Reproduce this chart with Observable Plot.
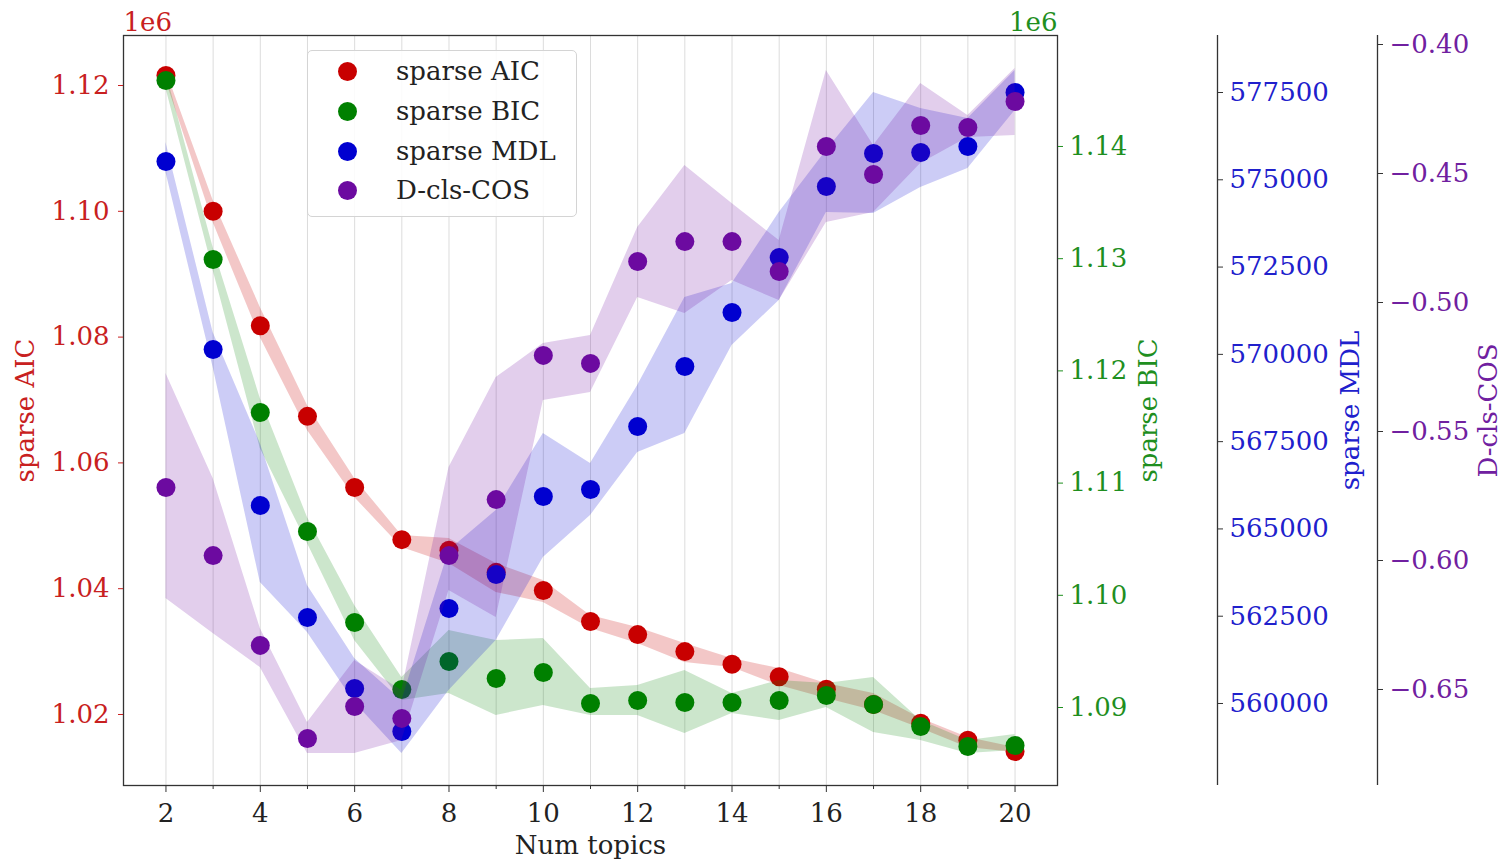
<!DOCTYPE html>
<html><head><meta charset="utf-8">
<script src="https://cdn.jsdelivr.net/npm/d3@7"></script>
<script src="https://cdn.jsdelivr.net/npm/@observablehq/plot@0.6"></script>
<style>
body{margin:0;background:#fff;}
#wrap{position:relative;width:1503px;height:860px;}
#legend{position:absolute;left:307px;top:50px;width:270px;height:167px;box-sizing:border-box;border:1px solid #d4d4d4;border-radius:5px;background:rgba(255,255,255,0.85);font-family:"DejaVu Serif";font-size:26px;color:#222;}
#legend .row{position:absolute;left:0;height:30px;}
#legend .dot{position:absolute;left:30px;top:6px;width:19px;height:19px;border-radius:50%;}
#legend .lab{position:absolute;left:88px;top:0;white-space:nowrap;line-height:30px;}
</style></head>
<body><div id="wrap"><div id="chart"></div><div id="legend"></div></div>
<script>
const topics = [2,3,4,5,6,7,8,9,10,11,12,13,14,15,16,17,18,19,20];

const aic     = [1121600,1100000,1081800,1067400,1056100,1047800,1046100,1042600,1039700,1034800,1032700,1030000,1028000,1026000,1024000,1021600,1018600,1015900,1014100];
const aicLow  = [1120790,1098220,1079940,1065150,1054500,1046550,1044010,1039400,1037810,1033670,1031290,1028270,1027470,1024610,1022540,1020640,1017770,1014750,1013960];
const aicHigh = [1122380,1101720,1084710,1069130,1057520,1048460,1047980,1044010,1041300,1035740,1033830,1031290,1028900,1027310,1024930,1023340,1019360,1016340,1014750];

const bic     = [1145880,1129930,1116290,1105690,1097580,1091600,1094100,1092580,1093120,1090360,1090620,1090450,1090450,1090620,1091070,1090270,1088310,1086520,1086610];
const bicLow  = [1145170,1128950,1113080,1104620,1095970,1090620,1091250,1089290,1090180,1089290,1089290,1087680,1089470,1088840,1090000,1087770,1087060,1085900,1086170];
const bicHigh = [1146600,1131000,1117540,1106930,1099090,1092670,1096860,1095970,1096150,1091690,1091960,1093300,1091250,1092410,1092140,1092670,1088840,1087060,1087590];

const mdl     = [575524,570139,565671,562463,560429,559198,562721,563695,565929,566129,567934,569652,571199,572774,574808,575753,575781,575953,577500];
const mdlLow  = [575209,569623,563465,562033,560028,558568,560372,561804,564181,565384,567189,567733,570254,571542,574063,574034,574779,575323,576984];
const mdlHigh = [576068,570626,567447,563379,561289,560086,564382,565528,567733,566874,569108,571628,572029,574063,575839,577500,577042,576755,578130];

const cos     = [-0.5717,-0.5981,-0.6329,-0.6690,-0.6566,-0.6612,-0.5981,-0.5764,-0.5205,-0.5236,-0.4841,-0.4764,-0.4764,-0.4880,-0.4395,-0.4504,-0.4314,-0.4322,-0.4221];
const cosLow  = [-0.6147,-0.6283,-0.6415,-0.6748,-0.6748,-0.6698,-0.6116,-0.6221,-0.5380,-0.5349,-0.4981,-0.5043,-0.4915,-0.4992,-0.4690,-0.4651,-0.4461,-0.4360,-0.4353];
const cosHigh = [-0.5275,-0.5682,-0.6264,-0.6628,-0.6388,-0.6504,-0.5640,-0.5291,-0.5159,-0.5128,-0.4709,-0.4469,-0.4616,-0.4760,-0.4101,-0.4391,-0.4151,-0.4275,-0.4093];

const seriesNames = ["sparse AIC", "sparse BIC", "sparse MDL", "D-cls-COS"];
const seriesColors = ["#c80000", "#008000", "#0000d0", "#6c0aa0"];
const labelColors = ["#c82020", "#1f8f1f", "#2020cc", "#7020a0"];

const xTicksMajor = [2,4,6,8,10,12,14,16,18,20];
const xTicksMinor = [3,5,7,9,11,13,15,17,19];
const aicTicks = [1020000,1040000,1060000,1080000,1100000,1120000];
const bicTicks = [1090000,1100000,1110000,1120000,1130000,1140000];
const mdlTicks = [560000,562500,565000,567500,570000,572500,575000,577500];
const cosTicks = [-0.65,-0.60,-0.55,-0.50,-0.45,-0.40];

const xDomain = [1.1, 20.9];
const aicDomain = [1008712, 1127950];
const bicDomain = [1083050, 1149890];
const mdlDomain = [557651, 579133];
const cosDomain = [-0.68721, -0.39651];

// map every secondary series onto the primary (AIC) y scale
const fBic = d3.scaleLinear().domain(bicDomain).range(aicDomain);
const fMdl = d3.scaleLinear().domain(mdlDomain).range(aicDomain);
const fCos = d3.scaleLinear().domain(cosDomain).range(aicDomain);
const fAic = d3.scaleLinear().domain(aicDomain).range(aicDomain);

function rows(v, lo, hi, f) {
  return topics.map((t, i) => ({x: t, v: f(v[i]), lo: f(lo[i]), hi: f(hi[i])}));
}
const series = [
  rows(aic, aicLow, aicHigh, fAic),
  rows(bic, bicLow, bicHigh, fBic),
  rows(mdl, mdlLow, mdlHigh, fMdl),
  rows(cos, cosLow, cosHigh, fCos)
];
const bandOpacity = [0.22, 0.2, 0.2, 0.2];

const font = "DejaVu Serif";
const marks = [
  Plot.gridX(topics, {stroke: "#dcdcdc", strokeOpacity: 1, strokeWidth: 1})
];
series.forEach((s, k) => {
  marks.push(Plot.areaY(s, {x: "x", y1: "lo", y2: "hi", fill: seriesColors[k], fillOpacity: bandOpacity[k], curve: "linear"}));
  marks.push(Plot.dot(s, {x: "x", y: "v", r: 9.5, fill: seriesColors[k], stroke: "none"}));
});

const minus = s => s.replace("-", "\u2212");
marks.push(
  Plot.frame({stroke: "#333", strokeWidth: 1.3}),
  Plot.axisX(xTicksMajor, {tickSize: 7, tickPadding: 11, stroke: "#333", fill: "#222", label: null}),
  Plot.axisX(xTicksMinor, {tickSize: 4, tickFormat: () => "", stroke: "#333", label: null}),
  Plot.axisY(aicTicks, {anchor: "left", tickSize: 5, tickPadding: 9, stroke: labelColors[0], fill: labelColors[0], label: null,
    tickFormat: d => (d / 1e6).toFixed(2)}),
  Plot.axisY(bicTicks.map(fBic), {anchor: "right", tickSize: 5, tickPadding: 7, stroke: labelColors[1], fill: labelColors[1], label: null,
    tickFormat: d => (fBic.invert(d) / 1e6).toFixed(2)}),
  Plot.ruleX([xDomain[1]], {dx: 160, stroke: "#333", strokeWidth: 1.3}),
  Plot.axisY(mdlTicks.map(fMdl), {anchor: "right", dx: 160, tickSize: 5, tickPadding: 7, stroke: "#333", fill: labelColors[2], label: null,
    tickFormat: d => String(Math.round(fMdl.invert(d) / 100) * 100)}),
  Plot.ruleX([xDomain[1]], {dx: 320, stroke: "#333", strokeWidth: 1.3}),
  Plot.axisY(cosTicks.map(fCos), {anchor: "right", dx: 320, tickSize: 5, tickPadding: 7, stroke: "#333", fill: labelColors[3], label: null,
    tickFormat: d => minus((Math.round(fCos.invert(d) * 100) / 100).toFixed(2))}),
  Plot.text([seriesNames[0]], {text: d => d, frameAnchor: "left", textAnchor: "middle", lineAnchor: "middle", dx: -98, rotate: -90, fill: labelColors[0]}),
  Plot.text([seriesNames[1]], {text: d => d, frameAnchor: "right", textAnchor: "middle", lineAnchor: "middle", dx: 91, rotate: -90, fill: labelColors[1]}),
  Plot.text([seriesNames[2]], {text: d => d, frameAnchor: "right", textAnchor: "middle", lineAnchor: "middle", dx: 293, rotate: -90, fill: labelColors[2]}),
  Plot.text([seriesNames[3]], {text: d => d, frameAnchor: "right", textAnchor: "middle", lineAnchor: "middle", dx: 431, rotate: -90, fill: labelColors[3]}),
  Plot.text(["Num topics"], {text: d => d, frameAnchor: "bottom", lineAnchor: "middle", dy: 60, fill: "#222"}),
  Plot.text(["1e6"], {text: d => d, frameAnchor: "top-left", textAnchor: "start", lineAnchor: "bottom", dy: -5, fill: labelColors[0]}),
  Plot.text(["1e6"], {text: d => d, frameAnchor: "top-right", textAnchor: "end", lineAnchor: "bottom", dy: -5, fill: labelColors[1]})
);

const chart = Plot.plot({
  width: 1503, height: 860,
  marginLeft: 123, marginRight: 446, marginTop: 35, marginBottom: 75,
  style: {fontFamily: font, fontSize: "26px", background: "#fff", overflow: "visible"},
  x: {domain: xDomain},
  y: {domain: aicDomain},
  marks
});
document.getElementById("chart").appendChild(chart);

const legend = document.getElementById("legend");
const rowTops = [5, 45, 85, 124];
seriesNames.forEach((name, i) => {
  const row = document.createElement("div");
  row.className = "row";
  row.style.top = rowTops[i] + "px";
  row.innerHTML = `<span class="dot" style="background:${seriesColors[i]}"></span><span class="lab">${name}</span>`;
  legend.appendChild(row);
});
</script>
</body></html>
